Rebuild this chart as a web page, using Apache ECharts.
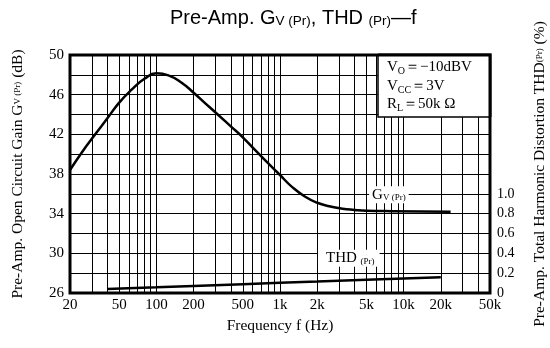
<!DOCTYPE html>
<html>
<head>
<meta charset="utf-8">
<script src="https://cdn.jsdelivr.net/npm/echarts@6/dist/echarts.min.js"></script>
<style>html,body{margin:0;padding:0;background:#fff;}#c{width:550px;height:348px;}</style>
</head>
<body>
<div id="c"></div>
<script>
// ---- data ----
var gvFreq = [20, 25, 32, 40, 50, 63, 80, 100, 125, 160, 200, 250, 320, 400, 500, 630, 800, 1000, 1250, 1600, 2000, 2500, 3200, 4000, 5000, 8000, 24000];
var gvValues = [38.4, 40.2, 42.0, 43.6, 45.2, 46.5, 47.6, 48.15, 47.95, 47.2, 46.2, 45.1, 43.9, 42.8, 41.7, 40.4, 39.1, 37.9, 36.7, 35.7, 35.1, 34.75, 34.5, 34.38, 34.3, 34.25, 34.2];
var thdFreq = [40, 100, 200, 500, 1000, 2000, 5000, 10000, 20000];
var thdValues = [0.04, 0.057, 0.071, 0.089, 0.103, 0.116, 0.134, 0.147, 0.158];
var xTickLabels = [20, 50, 100, 200, 500, 1000, 2000, 5000, 10000, 20000, 50000];
var xGridValues = [20, 30, 40, 50, 60, 70, 80, 90, 100, 200, 300, 400, 500, 600, 700, 800, 900, 1000, 2000, 3000, 4000, 5000, 6000, 7000, 8000, 9000, 10000, 20000, 30000, 40000, 50000];

var serif = "'Liberation Serif', 'DejaVu Serif', serif";
var sans = "'Liberation Sans', Arial, sans-serif";

function pairs(xs, ys) { return xs.map(function (x, i) { return [x, ys[i]]; }); }

var chart = echarts.init(document.getElementById('c'), null, { renderer: 'canvas' });
var option = {
  animation: false,
  backgroundColor: '#fff',
  title: {
    text: 'Pre-Amp. G{s|V (Pr)}, THD {s|(Pr)}—f',
    left: 165, top: 3,
    textStyle: {
      fontFamily: sans, fontSize: 20, fontWeight: 'normal', color: '#000',
      rich: { s: { fontFamily: sans, fontSize: 13.5, color: '#000', verticalAlign: 'bottom', padding: [6, 0, 0, 0] } }
    }
  },
  grid: { left: 70, right: 60, top: 55, bottom: 55, outerBoundsMode: 'none', containLabel: false,
    show: true, borderColor: '#000', borderWidth: 3, backgroundColor: 'transparent' },
  xAxis: {
    type: 'log', logBase: 10, min: 20, max: 50000,
    name: 'Frequency f (Hz)', nameLocation: 'middle', nameGap: 24,
    nameTextStyle: { fontFamily: serif, fontSize: 15.5, color: '#000' },
    axisLine: { show: false },
    axisTick: { show: false, customValues: xGridValues },
    splitLine: { show: true, lineStyle: { color: '#000', width: 1 } },
    axisLabel: {
      customValues: xTickLabels, margin: 5,
      fontFamily: serif, fontSize: 15, color: '#000',
      formatter: function (v) { return v >= 1000 ? (v / 1000) + 'k' : String(v); }
    }
  },
  yAxis: [{
    type: 'value', min: 26, max: 50, interval: 2,
    name: 'Pre-Amp. Open Circuit Gain G{s|V (Pr)} (dB)', nameLocation: 'middle', nameGap: 44, nameRotate: 90,
    nameTextStyle: { fontFamily: serif, fontSize: 15.5, color: '#000',
      rich: { s: { fontFamily: serif, fontSize: 9, color: '#000' } } },
    axisLine: { show: false }, axisTick: { show: false },
    splitLine: { show: true, lineStyle: { color: '#000', width: 1 } },
    axisLabel: {
      margin: 6, fontFamily: serif, fontSize: 15, color: '#000',
      formatter: function (v) { return ((Math.round(v) - 26) % 4 === 0) ? String(Math.round(v)) : ''; }
    }
  }, {
    type: 'value', min: 0, max: 2.4, interval: 0.2, position: 'right',
    name: 'Pre-Amp. Total Harmonic Distortion THD{s|(Pr)} (%)', nameLocation: 'middle', nameGap: 42, nameRotate: 90,
    nameTextStyle: { fontFamily: serif, fontSize: 15.5, color: '#000',
      rich: { s: { fontFamily: serif, fontSize: 9, color: '#000' } } },
    axisLine: { show: false }, axisTick: { show: false }, splitLine: { show: false },
    axisLabel: {
      margin: 7, fontFamily: serif, fontSize: 14, color: '#000',
      formatter: function (v) { var r = Math.round(v * 10) / 10; if (r > 1.0001) return ''; return r === 0 ? '0' : r.toFixed(1); }
    }
  }],
  series: [{
    type: 'line', name: 'Gv', yAxisIndex: 0, data: pairs(gvFreq, gvValues),
    smooth: 0.5, showSymbol: false, symbol: 'none',
    lineStyle: { color: '#000', width: 2.5 }, z: 5,
    markPoint: {
      symbol: 'rect', symbolSize: 1, itemStyle: { color: 'transparent' },
      data: [{ coord: [7600, 35.9], label: {
        show: true, position: 'inside', formatter: 'G{s|V (Pr)}',
        fontFamily: serif, fontSize: 15, color: '#000', backgroundColor: '#fff', padding: [1, 3, 1, 3],
        rich: { s: { fontFamily: serif, fontSize: 9, color: '#000', verticalAlign: 'bottom' } }
      } }]
    }
  }, {
    type: 'line', name: 'THD', yAxisIndex: 1, data: pairs(thdFreq, thdValues),
    smooth: false, showSymbol: false, symbol: 'none',
    lineStyle: { color: '#000', width: 2.5 }, z: 5,
    markPoint: {
      symbol: 'rect', symbolSize: 1, itemStyle: { color: 'transparent' },
      data: [{ coord: [3600, 0.35], label: {
        show: true, position: 'inside', formatter: 'THD {s|(Pr)}',
        fontFamily: serif, fontSize: 15, color: '#000', backgroundColor: '#fff', padding: [1, 5, 1, 8],
        rich: { s: { fontFamily: serif, fontSize: 9, color: '#000', verticalAlign: 'bottom' } }
      } }]
    }
  }],
  graphic: [
    { type: 'rect', z: 10, shape: { x: 378, y: 55, width: 112, height: 62 }, style: { fill: '#fff', stroke: '#000', lineWidth: 1.5 } },
    { type: 'polyline', z: 11, shape: { points: [[378, 55], [490, 55], [490, 117]] }, style: { stroke: '#000', lineWidth: 3, fill: null } },
    { type: 'text', z: 12, left: 387, top: 58, style: {
      text: 'V{s|O}＝−10dBV\nV{s|CC}＝3V\nR{s|L}＝50k Ω',
      font: '15px ' + serif, fill: '#000', lineHeight: 18.5,
      rich: { s: { fontFamily: serif, fontSize: 10, fill: '#000', verticalAlign: 'bottom', lineHeight: 18.5 } }
    } }
  ]
};
chart.setOption(option);
</script>
</body>
</html>
